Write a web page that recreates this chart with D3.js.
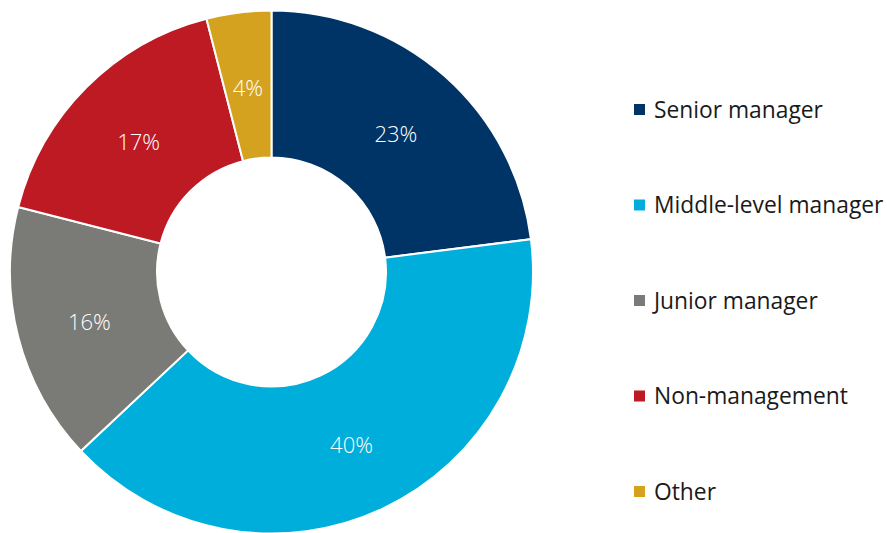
<!DOCTYPE html>
<html>
<head>
<meta charset="utf-8">
<script src="https://cdn.jsdelivr.net/npm/d3@7"></script>
<style>
  body { margin: 0; background: #fff; }
  svg { display: block; font-family: "Open Sans", "Noto Sans", sans-serif; }
</style>
</head>
<body>
<div id="chart"></div>
<script>
const categories = ["Senior manager", "Middle-level manager", "Junior manager", "Non-management", "Other"];
const values = [23, 40, 16, 17, 4];
const colors = ["#003466", "#00aedb", "#7a7a76", "#be1a23", "#d4a21f"];

const width = 887;
const height = 533;
const cx = 271.5;
const cy = 272;
const outerR = 261.5;
const innerR = 114.5;

const svg = d3.select("#chart")
  .append("svg")
  .attr("width", width)
  .attr("height", height);

const data = categories.map((c, i) => ({ name: c, value: values[i], color: colors[i] }));

const pie = d3.pie().value((d) => d.value).sort(null);
const arc = d3.arc().innerRadius(innerR).outerRadius(outerR);

const g = svg.append("g").attr("transform", `translate(${cx},${cy})`);

const arcs = pie(data);

g.selectAll("path")
  .data(arcs)
  .join("path")
  .attr("d", arc)
  .attr("fill", (d) => d.data.color)
  .attr("stroke", "#fff")
  .attr("stroke-width", 2);

// percent labels at slice centroids
g.selectAll("text")
  .data(arcs)
  .join("text")
  .attr("transform", (d) => `translate(${arc.centroid(d)})`)
  .attr("text-anchor", "middle")
  .attr("dy", "0.5em")
  .attr("fill", "#fff")
  .attr("font-size", 22)
  .attr("font-weight", 300)
  .text((d) => d.data.value + "%");

// Legend
const legendY = d3.scalePoint().domain(categories).range([110, 492]);

const legend = svg.append("g")
  .selectAll("g")
  .data(data)
  .join("g")
  .attr("transform", (d) => `translate(634,${legendY(d.name)})`);

legend.append("rect")
  .attr("x", 0)
  .attr("y", -6)
  .attr("width", 11)
  .attr("height", 11)
  .attr("fill", (d) => d.color);

legend.append("text")
  .attr("x", 20)
  .attr("dy", "0.35em")
  .attr("fill", "#1a1a1a")
  .attr("font-size", 22.8)
  .text((d) => d.name);
</script>
</body>
</html>
